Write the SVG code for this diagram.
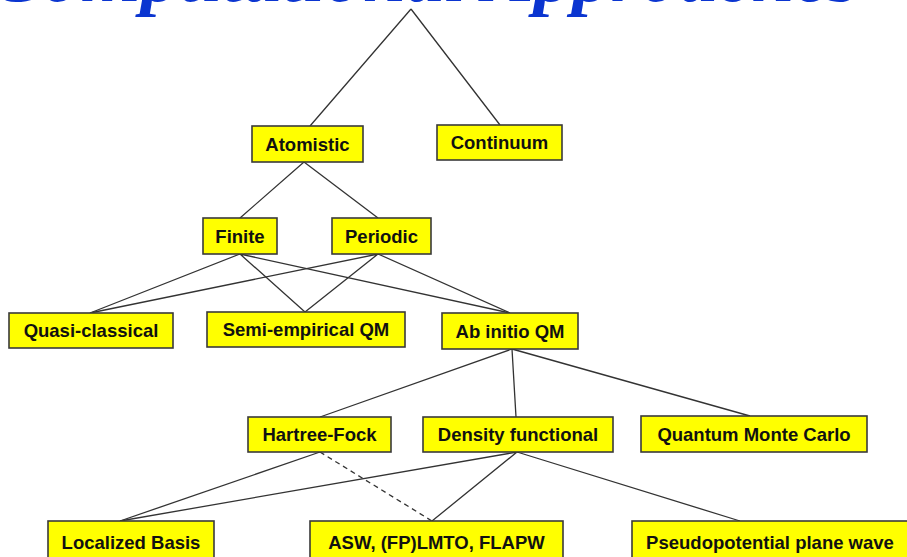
<svg xmlns="http://www.w3.org/2000/svg" width="907" height="557" viewBox="0 0 907 557">
<style>
.box{fill:#ffff00;stroke:#3a3a3a;stroke-width:1.6}
.lbl{font-family:"Liberation Sans",Arial,sans-serif;font-weight:bold;font-size:18.5px;fill:#111;text-anchor:middle}
.ln{stroke:#333;stroke-width:1.3;fill:none}
.dash{stroke-dasharray:5,4}
.title{font-family:"Liberation Serif","Times New Roman",serif;font-weight:bold;font-style:italic;font-size:77px;fill:#0b35d0}
</style>
<rect width="907" height="557" fill="#ffffff"/>
<text class="title" x="-9" y="1">Computational Approaches</text>
<g id="connectors">
<path class="ln" d="M411,9 L310,126 M411,9 L500,125"/>
<path class="ln" d="M304,162 L240,218 M304,162 L378,218"/>
<path class="ln" d="M240,254 L90,313 M240,254 L305,312 M240,254 L510,313"/>
<path class="ln" d="M378,254 L90,313 M378,254 L305,312 M378,254 L510,313"/>
<path class="ln" d="M512,349 L320,417 M512,349 L516,417 M512,349 L750,416"/>
<path class="ln" d="M517,452 L120,521 M517,452 L432,521 M517,452 L740,521"/>
<path class="ln" d="M320,452 L120,521"/>
<path class="ln dash" d="M320,452 L432,521"/>
</g>
<g id="atomistic"><rect class="box" x="252" y="126" width="111" height="36"/><text class="lbl" x="307.5" y="150.5">Atomistic</text></g>
<g id="continuum"><rect class="box" x="437" y="125" width="125" height="35"/><text class="lbl" x="499.5" y="149">Continuum</text></g>
<g id="finite"><rect class="box" x="203" y="218" width="74" height="36"/><text class="lbl" x="240" y="242.5">Finite</text></g>
<g id="periodic"><rect class="box" x="332" y="218" width="99" height="36"/><text class="lbl" x="381.5" y="242.5">Periodic</text></g>
<g id="quasi-classical"><rect class="box" x="9" y="313" width="164" height="35"/><text class="lbl" x="91" y="337">Quasi-classical</text></g>
<g id="semi-empirical"><rect class="box" x="207" y="312" width="198" height="35"/><text class="lbl" x="306" y="336">Semi-empirical QM</text></g>
<g id="ab-initio"><rect class="box" x="442" y="313" width="136" height="36"/><text class="lbl" x="510" y="337.5">Ab initio QM</text></g>
<g id="hartree-fock"><rect class="box" x="248" y="417" width="143" height="35"/><text class="lbl" x="319.5" y="441">Hartree-Fock</text></g>
<g id="density-functional"><rect class="box" x="423" y="417" width="190" height="35"/><text class="lbl" x="518" y="441">Density functional</text></g>
<g id="quantum-monte-carlo"><rect class="box" x="641" y="416" width="226" height="36"/><text class="lbl" x="754" y="440.5">Quantum Monte Carlo</text></g>
<g id="localized-basis"><rect class="box" x="48" y="521" width="166" height="50"/><text class="lbl" x="131" y="549">Localized Basis</text></g>
<g id="asw-lmto-flapw"><rect class="box" x="310" y="521" width="253" height="50"/><text class="lbl" x="436.5" y="549">ASW, (FP)LMTO, FLAPW</text></g>
<g id="pseudopotential"><rect class="box" x="632" y="521" width="285" height="50"/><text class="lbl" x="770" y="549">Pseudopotential plane wave</text></g>
</svg>
